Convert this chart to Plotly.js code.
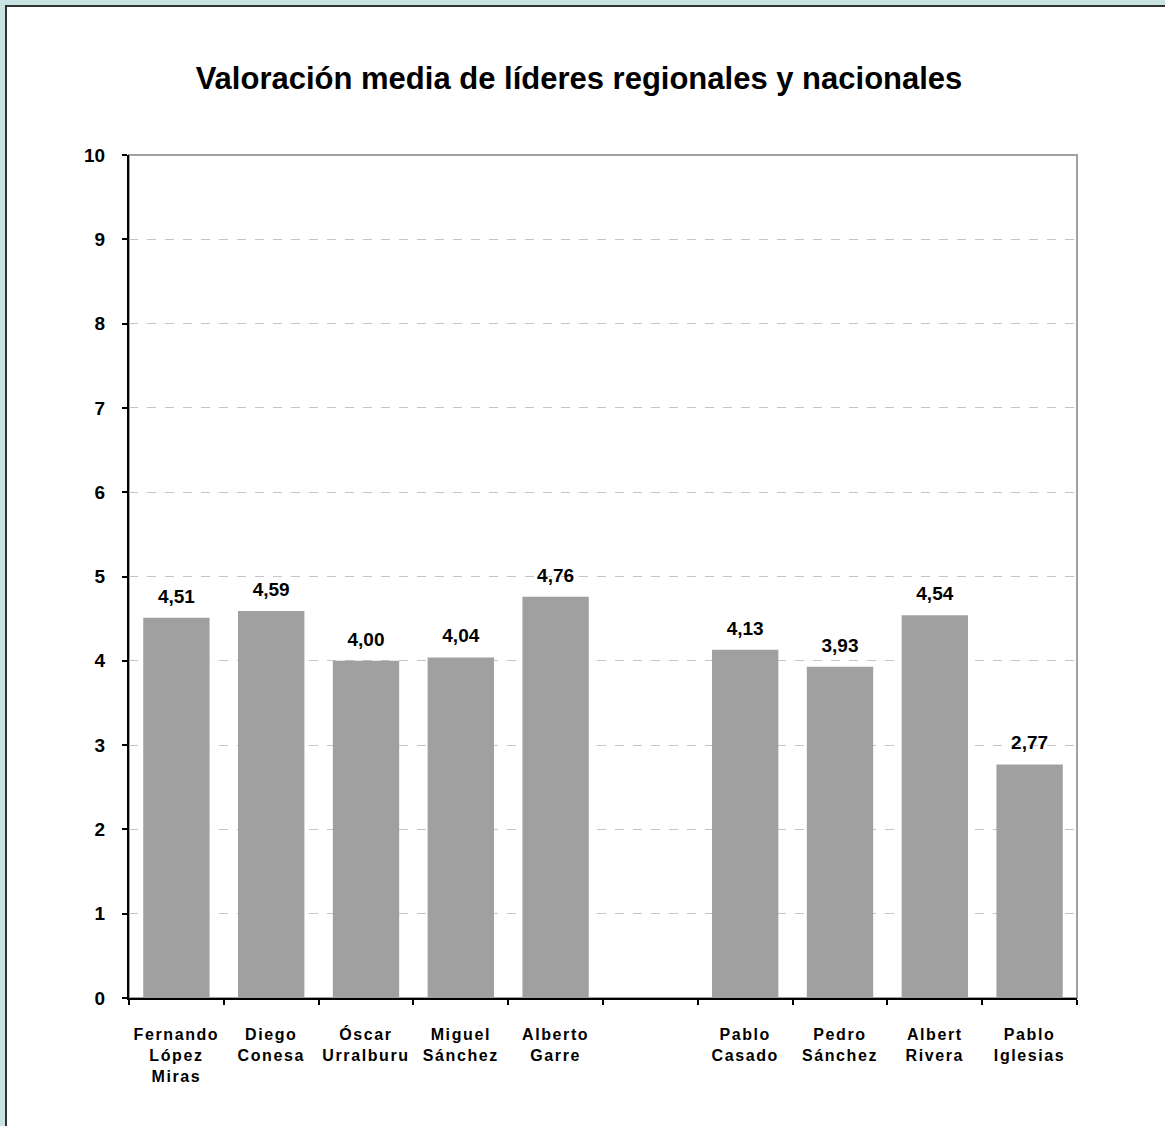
<!DOCTYPE html>
<html>
<head>
<meta charset="utf-8">
<script src="https://cdn.plot.ly/plotly-3.0.1.min.js"></script>
<style>
  html, body { margin: 0; padding: 0; width: 1165px; height: 1126px; overflow: hidden; background: #c9e3e3; }
  #frame { position: absolute; left: 5px; top: 5px; width: 1200px; height: 1200px; border: 2px solid #333; background: #ffffff; }
  #chart { position: absolute; left: 0; top: 0; width: 1165px; height: 1126px; }
  .xtick text { letter-spacing: 1.6px; }
</style>
</head>
<body>
<div id="frame"></div>
<div id="chart"></div>
<script>
const categories = [
  "Fernando<br>López<br>Miras",
  "Diego<br>Conesa",
  "Óscar<br>Urralburu",
  "Miguel<br>Sánchez",
  "Alberto<br>Garre",
  " ",
  "Pablo<br>Casado",
  "Pedro<br>Sánchez",
  "Albert<br>Rivera",
  "Pablo<br>Iglesias"
];
const values = [4.51, 4.59, 4.00, 4.04, 4.76, null, 4.13, 3.93, 4.54, 2.77];
const yTicks = [0, 1, 2, 3, 4, 5, 6, 7, 8, 9, 10];
const titleText = "Valoración media de líderes regionales y nacionales";

const FONT = "Liberation Sans, Arial, Helvetica, sans-serif";

const bars = {
  type: "bar",
  x: categories,
  y: values,
  width: 0.7,
  marker: { color: "#a0a0a0", line: { width: 0 } },
  hoverinfo: "skip"
};

const labels = {
  type: "scatter",
  mode: "markers+text",
  x: categories,
  y: values,
  marker: { size: 15, opacity: 0, color: "#ffffff" },
  texttemplate: "%{y:.2f}",
  textposition: "top center",
  textfont: { family: FONT, size: 19, color: "#000", weight: "bold" },
  cliponaxis: false,
  hoverinfo: "skip"
};

const layout = {
  width: 1165,
  height: 1126,
  margin: { l: 129, r: 88, t: 155, b: 128, pad: 0 },
  paper_bgcolor: "rgba(0,0,0,0)",
  plot_bgcolor: "#ffffff",
  separators: ",.",
  showlegend: false,
  title: {
    text: titleText,
    font: { family: FONT, size: 31, color: "#000", weight: "bold" },
    xref: "container", x: 0.497, xanchor: "center",
    yref: "container", y: 1 - 78 / 1126, yanchor: "middle"
  },
  xaxis: {
    type: "category",
    categoryorder: "array",
    categoryarray: categories,
    range: [-0.5, categories.length - 0.5],
    autorange: false,
    tickson: "boundaries",
    ticks: "outside",
    ticklen: 5,
    tickwidth: 2,
    tickcolor: "#000",
    showline: true,
    linecolor: "#000",
    linewidth: 2,
    showgrid: false,
    ticklabelstandoff: 21,
    tickfont: { family: FONT, size: 16, color: "#000", weight: "bold" },
    fixedrange: true
  },
  yaxis: {
    range: [0, 10],
    autorange: false,
    tickvals: yTicks,
    ticks: "outside",
    ticklen: 5,
    tickwidth: 2,
    tickcolor: "#000",
    showline: true,
    linecolor: "#000",
    linewidth: 2,
    showgrid: true,
    gridcolor: "#c4c4c4",
    gridwidth: 1,
    griddash: "dash",
    zeroline: false,
    ticklabelstandoff: 13,
    tickfont: { family: FONT, size: 19, color: "#000", weight: "bold" },
    fixedrange: true
  },
  shapes: [
    { type: "rect", xref: "paper", yref: "paper", x0: 0, x1: 1, y0: 0, y1: 1,
      line: { color: "#a0a0a0", width: 2 }, layer: "below" }
  ],
  bargap: 0.3
};

Plotly.newPlot("chart", [bars, labels], layout, { displayModeBar: false, staticPlot: true });
</script>
</body>
</html>
